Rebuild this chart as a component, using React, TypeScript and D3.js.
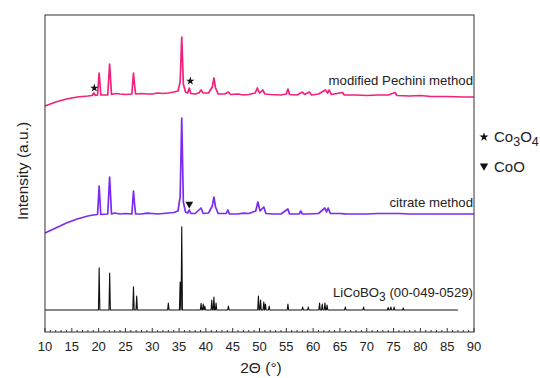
import React from "react";
import * as d3 from "d3";

// ---- Data (2θ in degrees, intensity in arbitrary units) ----
const pechiniPattern: [number, number][] = [
  [10, 226], [11, 228], [12, 230], [13, 231.5], [14, 233], [15, 234], [16, 235], [17, 235.5], [18, 236],
  [18.8, 236.5], [19.1, 239], [19.4, 236.5], [19.8, 237], [20.1, 259], [20.4, 237], [21.7, 237],
  [22.05, 268], [22.4, 237.5], [23.2, 238.5], [24, 238], [25, 237.5], [26.2, 238], [26.5, 259], [26.7, 247],
  [26.9, 238], [28, 238.5], [29, 238], [30, 238], [31, 239], [32, 238.5], [33, 239], [34, 240], [34.8, 241],
  [35.2, 250], [35.5, 295], [35.8, 248], [36.2, 240], [36.6, 239], [36.9, 244], [37.2, 238.5], [38, 238],
  [38.7, 239], [39.1, 242], [39.5, 239], [40.5, 239], [41.2, 245], [41.5, 254], [41.8, 244], [42.3, 238],
  [43.5, 238], [44.2, 240], [44.6, 237.5], [46, 238], [47, 237], [48, 237.5], [49.2, 239], [49.6, 244],
  [50, 239], [50.6, 242], [51, 238], [52, 237.5], [54, 237], [55, 238], [55.3, 243], [55.6, 237.5],
  [57, 237], [58, 240], [58.4, 237.5], [59.3, 240], [59.7, 237], [61, 238], [62.3, 242], [62.7, 239],
  [63, 242], [63.4, 237.5], [65.5, 239.5], [65.8, 237], [68, 237], [70, 236.5], [72, 237], [74, 237],
  [75.3, 239.5], [75.6, 236.5], [78, 236], [80, 236.5], [82, 235.5], [85, 235.5], [88, 235], [90, 235],
];

const citratePattern: [number, number][] = [
  [10, 99], [11, 101.5], [12, 104], [13, 106.5], [14, 109], [15, 111], [16, 113], [17, 114.5], [18, 116],
  [19, 117], [19.8, 117.5], [20.1, 146], [20.4, 117.5], [21.7, 118], [22.05, 155], [22.4, 118],
  [23, 119], [24, 118], [25, 118.5], [26.2, 118], [26.5, 141], [26.7, 128], [26.9, 118], [28, 118],
  [29, 118.8], [30, 118.5], [31, 118], [32, 118.5], [33, 119], [34, 119.5], [34.8, 121], [35.2, 135],
  [35.5, 214], [35.8, 130], [36.2, 120], [36.6, 119], [36.9, 122], [37.2, 118.5], [38, 118.5],
  [39.1, 124], [39.5, 118.5], [40.5, 119], [41.2, 126], [41.5, 135], [41.8, 125], [42.3, 118.5],
  [43.8, 118.5], [44.1, 122], [44.4, 118], [46, 118], [47, 118.8], [48, 118.5], [49.3, 121], [49.7, 130],
  [50.1, 121], [50.8, 125], [51.2, 118.5], [52.5, 118], [54, 118], [55.3, 123], [55.6, 118], [57.4, 118],
  [57.7, 121], [58, 118], [59, 118], [61, 118.5], [62.2, 124], [62.5, 120], [62.8, 124], [63.2, 118.5],
  [65, 118.5], [66, 118.2], [68, 118], [70, 118], [72, 118.5], [74, 118.5], [76, 118.5], [78, 118],
  [80, 118], [84, 118], [88, 118], [90, 118],
];

// Reference pattern LiCoBO3 (00-049-0529): [2θ, peak height]
const referencePeaks: [number, number][] = [
  [20.1, 42.3], [22.06, 37], [26.5, 23.3], [27.1, 14], [33.0, 7], [35.2, 28], [35.5, 83.3],
  [39.1, 6.7], [39.5, 6], [39.8, 4], [41.1, 10], [41.5, 13], [41.9, 7], [44.2, 4],
  [49.8, 14], [50.2, 10], [50.8, 8], [51.1, 6], [51.8, 4], [55.3, 6], [58.05, 3], [59.1, 3],
  [61.2, 7], [61.7, 6], [62.2, 7], [62.6, 5], [66.0, 3], [69.4, 3], [74.0, 2.5], [74.5, 3],
  [75.1, 3], [76.8, 2],
];
const referenceBaseline = 22;
const referenceRange: [number, number] = [10, 87];

const co3o4Marks: [number, number][] = [[19.2, 244], [37.1, 251]];
const cooMarks: [number, number][] = [[36.9, 128]];

const xTicks = [10, 15, 20, 25, 30, 35, 40, 45, 50, 55, 60, 65, 70, 75, 80, 85, 90];

export default function App() {
  const W = 540, H = 378;
  const left = 45, right = 474, top = 15, bottom = 332;
  const x = d3.scaleLinear().domain([10, 90]).range([left, right]);
  const y = d3.scaleLinear().domain([0, 317]).range([bottom, top]);
  const line = d3.line<[number, number]>().x(d => x(d[0])).y(d => y(d[1]));

  // build reference stick profile
  const w = 0.13;
  const xsSet = new Set<number>([referenceRange[0], referenceRange[1]]);
  referencePeaks.forEach(([c]) => { xsSet.add(c - w); xsSet.add(c); xsSet.add(c + w); });
  const xs = Array.from(xsSet).sort((a, b) => a - b);
  const refPts: [number, number][] = xs.map(xx => {
    let m = 0;
    referencePeaks.forEach(([c, h]) => {
      const v = h * Math.max(0, 1 - Math.abs(xx - c) / w);
      if (v > m) m = v;
    });
    return [xx, referenceBaseline + m];
  });

  const minor = d3.range(10, 91, 1);
  const font = "'Liberation Sans', Arial, sans-serif";
  const star = d3.symbol(d3.symbolStar, 22)() as string;
  const tri = d3.symbol(d3.symbolTriangle, 26)() as string;
  const starL = d3.symbol(d3.symbolStar, 26)() as string;
  const triL = d3.symbol(d3.symbolTriangle, 30)() as string;

  return (
    <svg width={W} height={H} style={{ position: "absolute", left: 0, top: 0, background: "#fff" }} fontFamily={font}>
      <rect x={0} y={0} width={W} height={H} fill="#fff" />
      <path d={line(pechiniPattern) || ""} fill="none" stroke="#f2217a" strokeWidth={1.7} strokeLinejoin="round" />
      <path d={line(citratePattern) || ""} fill="none" stroke="#7a2cf2" strokeWidth={1.7} strokeLinejoin="round" />
      <path d={line(refPts) || ""} fill="none" stroke="#111" strokeWidth={1.1} strokeLinejoin="round" />

      {co3o4Marks.map((m, i) => (
        <path key={"s" + i} d={star} transform={`translate(${x(m[0])},${y(m[1])})`} fill="#111" />
      ))}
      {cooMarks.map((m, i) => (
        <path key={"t" + i} d={tri} transform={`translate(${x(m[0])},${y(m[1])}) rotate(180)`} fill="#111" />
      ))}

      <text x={473} y={y(247)} fontSize={13.2} textAnchor="end" fill="#222">modified Pechini method</text>
      <text x={473} y={y(125)} fontSize={13.2} textAnchor="end" fill="#222">citrate method</text>
      <text x={473} y={y(35)} fontSize={13.2} textAnchor="end" fill="#222">
        LiCoBO<tspan dy={3.5} fontSize={12}>3</tspan><tspan dy={-3.5}> (00-049-0529)</tspan>
      </text>

      <rect x={left} y={top} width={right - left} height={bottom - top} fill="none" stroke="#333" strokeWidth={1} />
      {minor.map(t => (
        <line key={t} x1={x(t)} x2={x(t)} y1={bottom} y2={bottom - (t % 5 === 0 ? 4 : 2)} stroke="#333" strokeWidth={1} />
      ))}
      {xTicks.map(t => (
        <text key={"l" + t} x={x(t)} y={351} fontSize={13} textAnchor="middle" fill="#222">{t}</text>
      ))}
      <text x={261} y={373} fontSize={15.5} textAnchor="middle" fill="#222">2Θ (°)</text>
      <text transform="translate(28,171) rotate(-90)" fontSize={15.5} textAnchor="middle" fill="#222">Intensity (a.u.)</text>

      <path d={starL} transform="translate(484,137)" fill="#111" />
      <text x={494} y={142} fontSize={15} fill="#222">Co<tspan dy={4} fontSize={12.5}>3</tspan><tspan dy={-4}>O</tspan><tspan dy={4} fontSize={12.5}>4</tspan></text>
      <path d={triL} transform="translate(484,166) rotate(180)" fill="#111" />
      <text x={494} y={172} fontSize={15} fill="#222">CoO</text>
    </svg>
  );
}
